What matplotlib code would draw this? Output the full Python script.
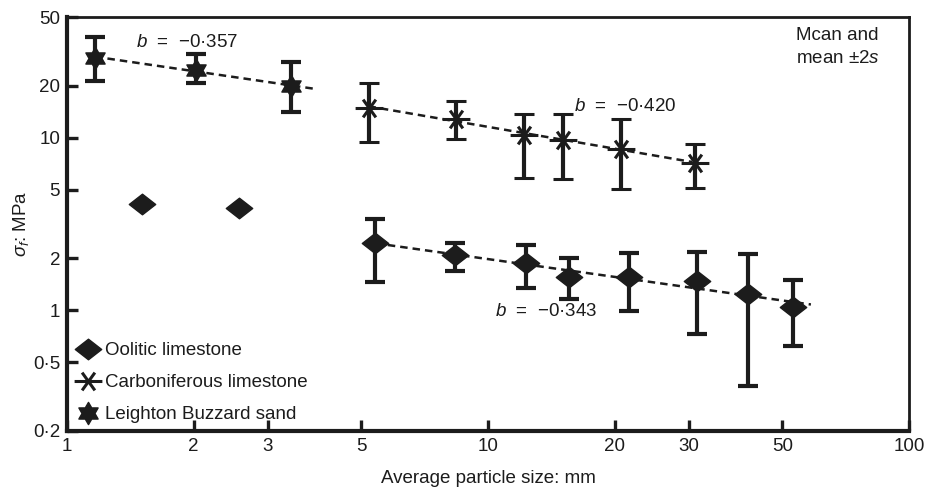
import numpy as np
import matplotlib
matplotlib.use('Agg')
import matplotlib.pyplot as plt
from matplotlib.path import Path
from matplotlib.lines import Line2D

plt.rcParams['font.family'] = ['Liberation Sans', 'DejaVu Sans']
plt.rcParams['mathtext.fontset'] = 'custom'
plt.rcParams['mathtext.it'] = 'Liberation Sans:italic'
plt.rcParams['mathtext.rm'] = 'Liberation Sans'

# Oolitic limestone (first two points have no scatter bars)
ool_x = [1.51, 2.56, 5.40, 8.34, 12.3, 15.6, 21.6, 31.4, 41.3, 52.9]
ool_y = [4.15, 3.94, 2.44, 2.08, 1.87, 1.57, 1.57, 1.47, 1.24, 1.05]
ool_hi = [np.nan, np.nan, 3.40, 2.47, 2.38, 2.00, 2.16, 2.19, 2.11, 1.49]
ool_lo = [np.nan, np.nan, 1.45, 1.70, 1.34, 1.16, 0.99, 0.727, 0.364, 0.62]
ool_b = -0.343
ool_fit = [5.4, 58.4]

# Carboniferous limestone
carb_x = [5.20, 8.39, 12.2, 15.1, 20.7, 31.0]
carb_y = [14.9, 12.9, 10.3, 9.74, 8.64, 7.17]
carb_hi = [20.8, 16.4, 13.8, 13.8, 12.9, 9.23]
carb_lo = [9.48, 9.87, 5.87, 5.79, 5.07, 5.14]
carb_b = -0.420
carb_fit = [5.2, 30.5]

# Leighton Buzzard sand
lb_x = [1.166, 2.02, 3.41]
lb_y = [29.0, 24.7, 20.0]
lb_hi = [38.4, 30.6, 27.5]
lb_lo = [21.4, 20.8, 14.1]
lb_b = -0.357
lb_fit = [1.166, 3.87]

xticks = [1, 2, 3, 5, 10, 20, 30, 50, 100]
xticklabels = ['1', '2', '3', '5', '10', '20', '30', '50', '100']
yticks = [0.2, 0.5, 1, 2, 5, 10, 20, 50]
yticklabels = ['0·2', '0·5', '1', '2', '5', '10', '20', '50']

ink = '#1c1c1c'
fs = 13.5

# marker shapes
diamond = Path([(-1, 0), (0, 0.78), (1, 0), (0, -0.78), (-1, 0)],
               [Path.MOVETO, Path.LINETO, Path.LINETO, Path.LINETO, Path.CLOSEPOLY])
ang = np.deg2rad(np.arange(12) * 30 + 90)
rad = np.where(np.arange(12) % 2 == 0, 1.0, 0.58)
star_v = np.column_stack([rad * np.cos(ang), rad * np.sin(ang)])
star_v = np.vstack([star_v, star_v[:1]])
star6 = Path(star_v, [Path.MOVETO] + [Path.LINETO] * 11 + [Path.CLOSEPOLY])
aster = Path([(-1, 0), (1, 0), (-0.46, 0.64), (0.46, -0.64), (0.46, 0.64), (-0.46, -0.64)],
             [Path.MOVETO, Path.LINETO, Path.MOVETO, Path.LINETO, Path.MOVETO, Path.LINETO])

fig = plt.figure(figsize=(9.25, 4.87), dpi=100)
ax = fig.add_axes([0.0724, 0.115, 0.9106, 0.85])
ax.set_xscale('log')
ax.set_yscale('log')


def errs(y, lo, hi):
    y, lo, hi = np.array(y), np.array(lo), np.array(hi)
    return np.vstack([np.nan_to_num(y - lo), np.nan_to_num(hi - y)])


def fitline(x, y, b, xr):
    x, y = np.array(x), np.array(y)
    c = np.exp(np.mean(np.log(y) - b * np.log(x)))
    xs = np.array(xr)
    ax.plot(xs, c * xs ** b, color=ink, lw=1.8, ls=(0, (3, 2)), zorder=2)


fitline(ool_x[2:], ool_y[2:], ool_b, ool_fit)
fitline(carb_x, carb_y, carb_b, carb_fit)
fitline(lb_x, lb_y, lb_b, lb_fit)

ebkw = dict(ecolor=ink, elinewidth=3, capsize=7, capthick=3, ls='none', zorder=3)
dkw = dict(marker=diamond, ms=19, mfc=ink, mec=ink)
akw = dict(marker=aster, ms=20, mfc='none', mec=ink, mew=2.2)
skw = dict(marker=star6, ms=16, mfc=ink, mec=ink)

ax.errorbar(ool_x[2:], ool_y[2:], yerr=errs(ool_y, ool_lo, ool_hi)[:, 2:], **dkw, **ebkw)
ax.plot(ool_x[:2], ool_y[:2], ls='none', zorder=3, **dkw)
ax.errorbar(carb_x, carb_y, yerr=errs(carb_y, carb_lo, carb_hi), **akw, **ebkw)
ax.errorbar(lb_x, lb_y, yerr=errs(lb_y, lb_lo, lb_hi), **skw, **ebkw)

ax.set_xlim(1, 100)
ax.set_ylim(0.2, 50)
ax.set_xticks(xticks)
ax.set_xticklabels(xticklabels)
ax.set_yticks(yticks)
ax.set_yticklabels(yticklabels)
ax.minorticks_off()
ax.tick_params(direction='in', length=8, width=2.4, color=ink, labelcolor=ink,
               labelsize=fs, pad=5)
for side in ['left', 'bottom']:
    ax.spines[side].set_linewidth(3)
for side in ['top', 'right']:
    ax.spines[side].set_linewidth(2)
for s in ax.spines.values():
    s.set_color(ink)

ax.set_xlabel('Average particle size: mm', fontsize=fs, color=ink, labelpad=11)
ax.set_ylabel(r'$\sigma_f$: MPa', fontsize=fs, color=ink, labelpad=1)

ax.text(1.46, 35.4, r'$b$  =  −0·357', fontsize=fs, color=ink, va='center')
ax.text(16.0, 15.1, r'$b$  =  −0·420', fontsize=fs, color=ink, va='center')
ax.text(10.4, 0.99, r'$b$  =  −0·343', fontsize=fs, color=ink, va='center')
ax.text(0.865, 0.975, 'Mcan and\nmean ±2$s$', transform=ax.transAxes, fontsize=fs,
        color=ink, va='top', ha='left', linespacing=1.4)

handles = [Line2D([], [], ls='none', **dkw),
           Line2D([], [], ls='none', **akw),
           Line2D([], [], ls='none', **skw)]
ax.legend(handles, ['Oolitic limestone', 'Carboniferous limestone', 'Leighton Buzzard sand'],
          loc='lower left', frameon=False, fontsize=fs, handlelength=1.4,
          handletextpad=0.25, labelspacing=0.8, borderaxespad=0.0,
          labelcolor=ink, bbox_to_anchor=(0.0, 0.0))

fig.savefig('out.png', dpi=100)
